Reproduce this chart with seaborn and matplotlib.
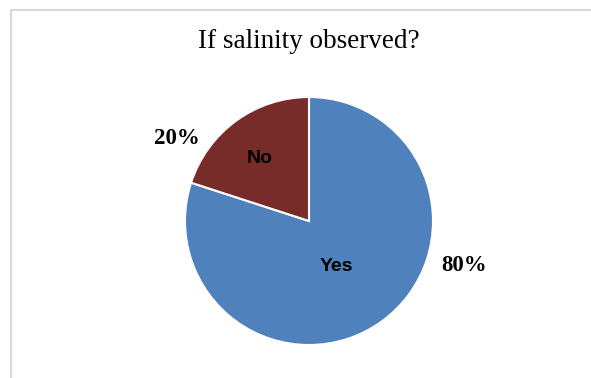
import numpy as np
import matplotlib
matplotlib.use("Agg")
import matplotlib.pyplot as plt
import seaborn as sns
from matplotlib.patches import Rectangle

# data
categories = ["Yes", "No"]
shares = [80, 20]
colors = ["#4F81BD", "#772C2A"]
title = "If salinity observed?"

sns.set_theme(style="white")
plt.rcParams['font.family'] = ['Liberation Sans', 'DejaVu Sans']

W, H = 591, 378
fig = plt.figure(figsize=(W / 100, H / 100), dpi=100)
fig.patch.set_facecolor("white")

# pie axes: center ~(309,221) px, radius ~124 px
ax = fig.add_axes([185 / W, 33 / H, 248 / W, 248 / H])
wedges, texts, autotexts = ax.pie(
    shares, labels=categories, colors=colors, startangle=90, counterclock=False,
    autopct="%1.0f%%", labeldistance=0.5, pctdistance=1.25,
    wedgeprops=dict(edgecolor="white", linewidth=1.5),
    textprops=dict(color="black"))
ax.set_xlim(-1, 1)
ax.set_ylim(-1, 1)
ax.set_aspect("auto")

# label layout (distance from centre, angle in degrees)
label_pos = [(0.43, -58.7), (0.64, 128)]
pct_pos = [(1.30, -16), (1.26, 148)]
for t, (r, a) in zip(texts, label_pos):
    t.set_position((r * np.cos(np.radians(a)), r * np.sin(np.radians(a))))
    t.set_ha("center"); t.set_va("center")
    t.set_fontsize(14); t.set_fontweight("bold")
for t, (r, a) in zip(autotexts, pct_pos):
    t.set_position((r * np.cos(np.radians(a)), r * np.sin(np.radians(a))))
    t.set_ha("center"); t.set_va("center")
    t.set_fontsize(16.5); t.set_fontweight("bold")
    t.set_family(["Liberation Serif", "DejaVu Serif"])

fig.text(309 / W, 1 - 41 / H, title, ha="center", va="center", fontsize=19.5,
         family=["Liberation Serif", "DejaVu Serif"], color="black")

# chart frame (only top and left edges are visible in the crop)
fig.patches.append(Rectangle((11 / W, -0.1), 1.2, 1.1 - 10 / H + 0.0,
                             transform=fig.transFigure, fill=False,
                             edgecolor="#d9d9d9", linewidth=1.5))

fig.savefig("out.png", dpi=100, facecolor="white")
